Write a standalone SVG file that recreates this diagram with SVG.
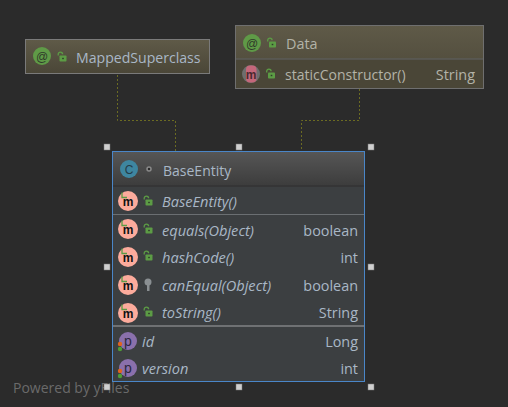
<svg xmlns="http://www.w3.org/2000/svg" width="508" height="407" viewBox="0 0 508 407">
<style>
text{font-family:"Open Sans","Noto Sans","Liberation Sans",sans-serif;font-size:14px;fill:#a9b7c6}
.n{fill:#b3b3a8}
.i{font-style:italic;font-size:14.6px}
.e{text-anchor:end;font-size:14.4px}
.g{font-family:"Liberation Sans",sans-serif;font-size:12px;text-anchor:middle;fill:#3a3a3a;font-weight:bold}
.c{fill:none;stroke:#6b6b22;stroke-width:1;stroke-dasharray:2 2}
.h{fill:#cfcfcf;stroke:#777;stroke-width:.5}
.lk{fill:none;stroke:#5c9c45;stroke-width:1.300}
.lb{fill:#5c9c45}
.d{stroke:#6b6f72;stroke-width:1}
.m{fill:#fcab9c}
.pc{fill:#8a70ac}
</style>
<defs>
<linearGradient id="gy" x1="0" y1="0" x2="0" y2="1"><stop offset="0" stop-color="#5f5a48"/><stop offset="1" stop-color="#4a4637"/></linearGradient>
<linearGradient id="gb" x1="0" y1="0" x2="0" y2="1"><stop offset="0" stop-color="#565656"/><stop offset="1" stop-color="#3d3d3d"/></linearGradient>
<g id="lock"><path class="lk" d="M0.700 -1.500V-2.700a2.200 2.200 0 0 1 4.400 0"/><rect class="lb" x="2" y="-1.500" width="7" height="6" rx=".8"/><rect x="4.700" y="0.800" width="1.600" height="1.400" fill="#2f3a2a"/></g>
<g id="meth"><circle class="m" r="10"/><path d="M-6 -8.500V-3.500H-1" fill="none" stroke="#5c9c45" stroke-width="1.300"/><text class="g" y="4.500" style="fill:#111">m</text></g>
<g id="prop"><circle class="pc" r="9"/><text class="g" y="4.500" style="font-size:14px;font-weight:normal;fill:#2c2740">p</text><circle cx="-8" cy="3" r="2.200" fill="#e0641f"/><circle cx="-8" cy="8" r="2.200" fill="#4f9c35"/></g>
</defs>
<rect width="508" height="407" fill="#2b2b2b"/>
<text x="13" y="393" style="font-size:14px;fill:#6a6a6a">Powered by yFiles</text>
<g id="connectors">
<path class="c" d="M117.500 75V120.500H175.500V151"/>
<path class="c" d="M359.500 89V120.500H301.500V151"/>
</g>
<g id="MappedSuperclass">
<rect x="25.500" y="39.500" width="184" height="34" fill="url(#gy)" stroke="#7a7a7a"/>
<circle cx="42" cy="56" r="9" fill="#5f9a47"/><text class="g" x="42" y="60.500" style="font-weight:normal;fill:#2f3a2a">@</text>
<use href="#lock" x="57.500" y="57"/>
<text x="76" y="63" style="fill:#a9b7c6;font-size:14.100px">MappedSuperclass</text>
</g>
<g id="Data">
<rect x="235.500" y="25.500" width="248" height="63" fill="url(#gy)" stroke="#6f6f6f"/>
<rect x="236" y="59" width="247" height="29" fill="#4a4637"/>
<line x1="236" y1="59" x2="483" y2="59" stroke="#5b5b58" stroke-width="1.500"/>
<circle cx="252" cy="43" r="9" fill="#5f9a47"/><text class="g" x="252" y="47.500" style="font-weight:normal;fill:#2f3a2a">@</text>
<use href="#lock" x="267" y="43"/>
<text class="n" x="286" y="49" style="font-size:14.400px">Data</text>
<circle cx="251" cy="74" r="9" fill="#6e6e6e"/><rect x="246" y="65.500" width="10.500" height="17" rx="4" fill="#c4677a"/><text class="g" x="251" y="78.500" style="fill:#4a2a30">m</text>
<use href="#lock" x="266" y="74"/>
<text class="n" x="285" y="80">staticConstructor()</text>
<text class="n e" x="475" y="80">String</text>
</g>
<g id="BaseEntity">
<rect x="112.500" y="151.500" width="252" height="230" fill="#3c3f41" stroke="#4a86c8"/>
<rect x="113" y="152" width="251" height="33" fill="url(#gb)"/>
<line x1="113" y1="186" x2="364" y2="186" stroke="#333" stroke-width="1.500"/>
<line class="d" x1="113" y1="214.500" x2="364" y2="214.500"/>
<line x1="113" y1="326" x2="364" y2="326" stroke="#6f7173" stroke-width="2"/>
<circle cx="129" cy="169" r="9" fill="#3e86a0"/><text class="g" x="129" y="173.500" style="font-weight:normal;fill:#243c48">C</text>
<circle cx="149" cy="169" r="2" fill="#2b2b2b" stroke="#8a8a8a" stroke-width="1.500"/>
<text x="163" y="176">BaseEntity</text>
<use href="#meth" x="128" y="201"/><use href="#lock" x="143.500" y="201"/>
<text class="i" x="162" y="207">BaseEntity()</text>
<use href="#meth" x="128" y="229"/><use href="#lock" x="143.500" y="229"/>
<text class="i" x="162" y="236">equals(Object)</text><text class="e" x="358" y="236">boolean</text>
<use href="#meth" x="128" y="257"/><use href="#lock" x="143.500" y="256"/>
<text class="i" x="162" y="263">hashCode()</text><text class="e" x="358" y="263">int</text>
<use href="#meth" x="128" y="285"/>
<g fill="#8a8f92"><circle cx="148" cy="282" r="3.500"/><rect x="147" y="284" width="2.500" height="7"/></g>
<text class="i" x="162" y="291">canEqual(Object)</text><text class="e" x="358" y="291">boolean</text>
<use href="#meth" x="128" y="313"/><use href="#lock" x="143.500" y="312"/>
<text class="i" x="162" y="318">toString()</text><text class="e" x="358" y="318">String</text>
<use href="#prop" x="128" y="341"/>
<text class="i" x="142" y="347">id</text><text class="e" x="358" y="347">Long</text>
<use href="#prop" x="128" y="368"/>
<text class="i" x="142" y="374">version</text><text class="e" x="358" y="374">int</text>
</g>
<g id="handles">
<rect class="h" x="104" y="144" width="6" height="6"/><rect class="h" x="236" y="144" width="6" height="6"/><rect class="h" x="368" y="144" width="6" height="6"/>
<rect class="h" x="104" y="264" width="6" height="6"/><rect class="h" x="368" y="264" width="6" height="6"/>
<rect class="h" x="104" y="384" width="6" height="6"/><rect class="h" x="236" y="384" width="6" height="6"/><rect class="h" x="368" y="384" width="6" height="6"/>
</g>
</svg>
